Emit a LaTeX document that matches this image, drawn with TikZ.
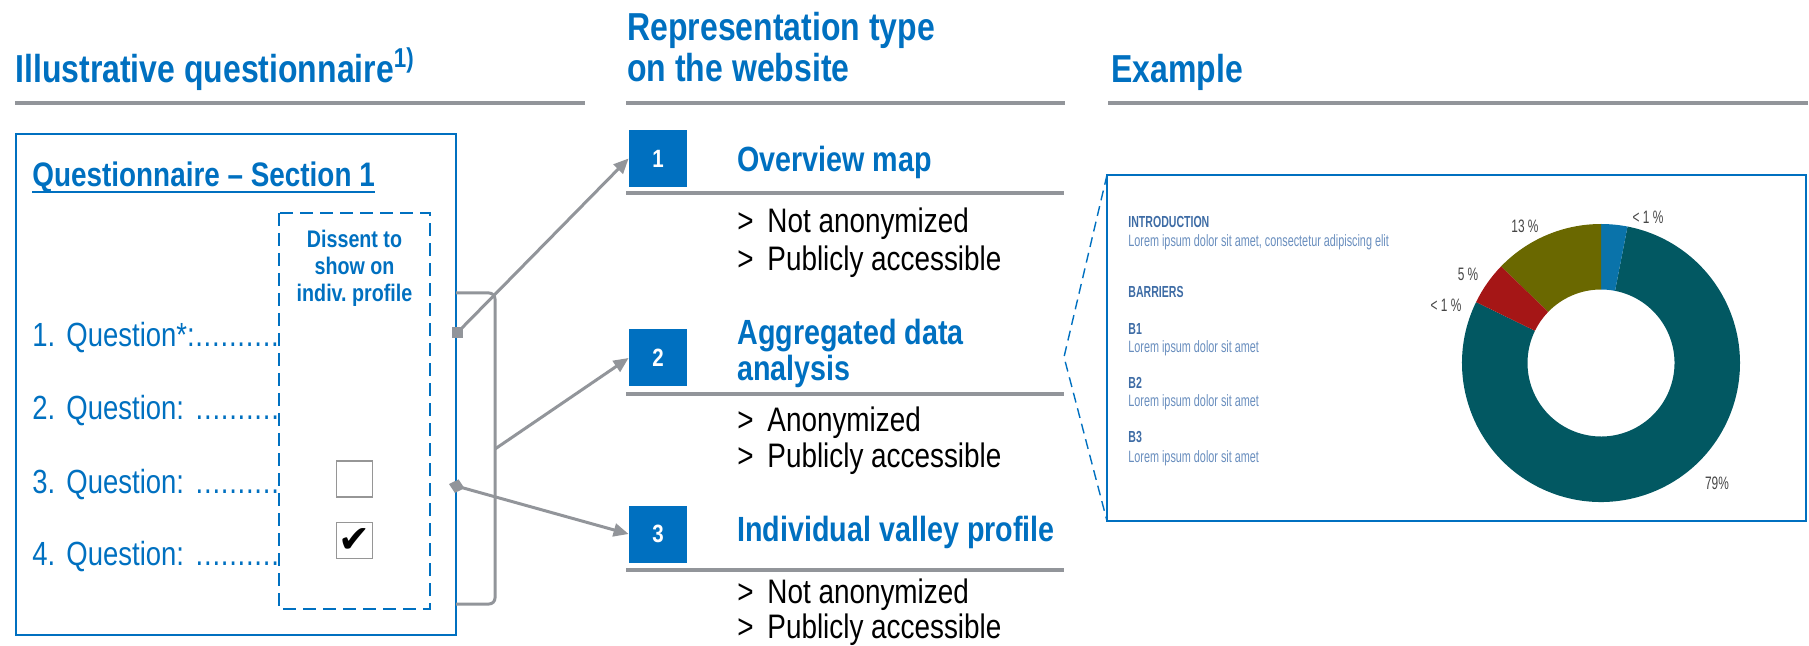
\documentclass[tikz,border=0pt]{standalone}
\usepackage{fontspec}
\setmainfont{Liberation Sans}[FakeStretch=0.82]
\newfontfamily\chartfont{Liberation Sans}[FakeStretch=0.66]
\newfontfamily\symfont{DejaVu Sans}
\usetikzlibrary{arrows.meta}
\frenchspacing

\definecolor{qblue}{RGB}{0,112,192}
\definecolor{rulegray}{RGB}{146,149,154}
\definecolor{boxgray}{RGB}{150,150,150}
\definecolor{cteal}{RGB}{2,88,98}
\definecolor{cblue}{RGB}{10,115,170}
\definecolor{colive}{RGB}{106,104,0}
\definecolor{cred}{RGB}{165,22,22}
\definecolor{chead}{RGB}{62,108,165}
\definecolor{clight}{RGB}{105,142,190}
\definecolor{pctgray}{RGB}{70,70,70}

\newcommand\qdots{\xleaders\hbox to 0.24em{\hss.\hss}\hskip 0pt plus 1filll\null}

\begin{document}
\begin{tikzpicture}
  [x=0.5pt, y=-0.5pt,
   every node/.style={inner sep=0pt},
   ttl/.style={anchor=base west, text=qblue, font=\bfseries\fontsize{19.5}{20}\selectfont},
   hdg/.style={anchor=base west, text=qblue, font=\bfseries\fontsize{17.5}{18}\selectfont},
   bul/.style={anchor=base west, font=\fontsize{17}{18}\selectfont},
   qtxt/.style={anchor=base west, text=qblue, text width=123.5pt, font=\fontsize{16.75}{18}\selectfont},
   dis/.style={anchor=base, text=qblue, font=\bfseries\fontsize{12}{13}\selectfont},
   numbox/.style={fill=qblue, text=white, minimum width=29pt, minimum height=28.5pt, font=\bfseries\fontsize{12.5}{13}\selectfont},
   chkbox/.style={draw=boxgray, line width=0.7pt, minimum size=18pt},
   sqmark/.style={fill=rulegray, minimum size=5.5pt},
   rule/.style={rulegray, line width=2pt},
   bracket/.style={rulegray, line width=1.5pt, rounded corners=3pt},
   conn/.style={rulegray, line width=1.5pt, ->},
   >={Triangle[length=7.5pt,width=6.5pt]},
   chead/.style={anchor=base west, text=chead, font=\chartfont\bfseries\fontsize{8}{9}\selectfont},
   ctxt/.style={anchor=base west, text=clight, font=\chartfont\fontsize{8.2}{9}\selectfont},
   pct/.style={text=pctgray, font=\chartfont\fontsize{9}{10}\selectfont}]
  \useasboundingbox (0,0) rectangle (1809,646);

  \node[ttl] (ttlq) at (15,83) {Illustrative questionnaire\textsuperscript{1)}};
  \node[ttl] (ttlr1) at (627,41) {Representation type};
  \node[ttl] (ttlr2) at (627,82) {on the website};
  \node[ttl] (ttlex) at (1111,83) {Example};
  \draw[rule] (15,103) -- (585,103);
  \draw[rule] (626,103) -- (1065,103);
  \draw[rule] (1108,103) -- (1808,103);

  % questionnaire
  \draw[qblue, line width=0.9pt] (16,134) rectangle (456,635);
  \node[anchor=base west, text=qblue, font=\bfseries\fontsize{17}{18}\selectfont] (sec) at (32,187) {Questionnaire – Section 1};
  \draw[qblue, line width=1pt] ([yshift=-2.5pt]sec.base west) -- ([yshift=-2.5pt]sec.base east);
  \draw[qblue, line width=0.8pt, dash pattern=on 6.5pt off 3.5pt] (279,213) rectangle (430,609);
  \node[dis] (dis1) at (354.5,248) {Dissent to};
  \node[dis] (dis2) at (354.5,275) {show on};
  \node[dis] (dis3) at (354.5,302) {indiv. profile};
  \node[qtxt] (q1) at (32,347) {1. Question*:\qdots};
  \node[qtxt] (q2) at (32,420) {2. Question: \qdots};
  \node[qtxt] (q3) at (32,493) {3. Question: \qdots};
  \node[qtxt] (q4) at (32,565) {4. Question: \qdots};
  \node[chkbox] (chk1) at (354.5,479) {};
  \node[chkbox, font=\symfont\fontsize{19}{19}\selectfont] (chk2) at (354.5,540.5) {✔};

  \draw[bracket] (456,293) -- (495,293) -- (495,604) -- (456,604);
  \node[sqmark] (mk1) at (457,333) {};
  \coordinate (q3out) at (449,484);
  \coordinate (brk) at (495,449);

  % representation types
  \node[numbox] (box1) at (658,158.5) {1};
  \node[numbox] (box2) at (658,358) {2};
  \node[numbox] (box3) at (658,534) {3};
  \node[hdg] (hd1) at (737,172) {Overview map};
  \node[hdg] (hd2a) at (737,345) {Aggregated data};
  \node[hdg] (hd2b) at (737,381) {analysis};
  \node[hdg] (hd3) at (737,541) {Individual valley profile};
  \draw[rule] (626,193) -- (1064,193);
  \draw[rule] (626,394) -- (1064,394);
  \draw[rule] (626,570) -- (1064,570);

  \node[bul] (g1a) at (737,233) {>};
  \node[bul] (t1a) at (767,233) {Not anonymized};
  \node[bul] (g1b) at (737,271) {>};
  \node[bul] (t1b) at (767,271) {Publicly accessible};
  \node[bul] (g2a) at (737,431) {>};
  \node[bul] (t2a) at (767,431) {Anonymized};
  \node[bul] (g2b) at (737,467) {>};
  \node[bul] (t2b) at (767,467) {Publicly accessible};
  \node[bul] (g3a) at (737,603) {>};
  \node[bul] (t3a) at (767,603) {Not anonymized};
  \node[bul] (g3b) at (737,638) {>};
  \node[bul] (t3b) at (767,638) {Publicly accessible};

  \draw[conn] (mk1.center) -- (box1.west);
  \draw[conn] (brk) -- (box2.west);
  \draw[conn, {Diamond[length=8pt,width=7pt]}->] (q3out) -- (box3.west);

  % example
  \coordinate (exnw) at (1107,175);
  \coordinate (exsw) at (1107,521);
  \coordinate (zm) at (1064,357);
  \draw[qblue, line width=1pt] (exnw) rectangle (1806,521);
  \draw[qblue, line width=0.7pt, dash pattern=on 5pt off 3pt] (exnw) -- (zm) -- (exsw);

  \node[chead] (intro) at (1128,228) {INTRODUCTION};
  \node[ctxt] (introtxt) at (1128,247) {Lorem ipsum dolor sit amet, consectetur adipiscing elit};
  \node[chead] (barr) at (1128,298) {BARRIERS};
  \node[chead] (b1) at (1128,335) {B1};
  \node[ctxt] (b1txt) at (1128,353) {Lorem ipsum dolor sit amet};
  \node[chead] (b2) at (1128,389) {B2};
  \node[ctxt] (b2txt) at (1128,407) {Lorem ipsum dolor sit amet};
  \node[chead] (b3) at (1128,443) {B3};
  \node[ctxt] (b3txt) at (1128,462) {Lorem ipsum dolor sit amet};

  \begin{scope}[shift={(1601,363)}]
    \fill[cteal] (154:69.5pt) arc[start angle=154, end angle=439, radius=69.5pt]
      -- (439:36.75pt) arc[start angle=439, end angle=154, radius=36.75pt] -- cycle;
    \fill[cblue] (79:69.5pt) arc[start angle=79, end angle=90, radius=69.5pt]
      -- (90:36.75pt) arc[start angle=90, end angle=79, radius=36.75pt] -- cycle;
    \fill[colive] (90:69.5pt) arc[start angle=90, end angle=136, radius=69.5pt]
      -- (136:36.75pt) arc[start angle=136, end angle=90, radius=36.75pt] -- cycle;
    \fill[cred] (136:69.5pt) arc[start angle=136, end angle=154, radius=69.5pt]
      -- (154:36.75pt) arc[start angle=154, end angle=136, radius=36.75pt] -- cycle;
  \end{scope}
  \node[pct] (p13) at (1525,226) {13 \%};
  \node[pct] (p1a) at (1648,217) {< 1 \%};
  \node[pct] (p5) at (1468,274) {5 \%};
  \node[pct] (p1b) at (1446,305) {< 1 \%};
  \node[pct] (p79) at (1717,483) {79\%};
\end{tikzpicture}
\end{document}
